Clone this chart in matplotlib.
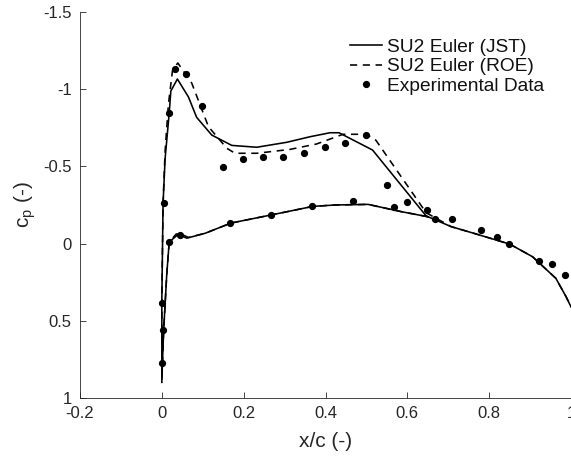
import matplotlib
matplotlib.use("Agg")
import matplotlib.pyplot as plt

plt.rcParams['font.family'] = ['Liberation Sans', 'DejaVu Sans']

# JST: lower surface (TE -> LE) followed by upper surface (LE -> TE)
jst_lower_x = [0.65, 0.585, 0.504, 0.423, 0.369, 0.27, 0.169, 0.106, 0.061, 0.04, 0.018, 0.012, 0.0045, 0.0]
jst_lower_cp = [-0.174, -0.207, -0.254, -0.25, -0.241, -0.187, -0.133, -0.067, -0.035, -0.06, -0.01, 0.2, 0.56, 0.88]
jst_upper_x = [0.0, 0.0, 0.003, 0.008, 0.018, 0.022, 0.038, 0.065, 0.085, 0.122, 0.171, 0.232, 0.305, 0.362, 0.411, 0.433,
               0.515, 0.646, 0.707, 0.776, 0.85, 0.906, 0.963, 0.988, 1.0]
jst_upper_cp = [0.88, 0.365, -0.26, -0.55, -0.845, -0.988, -1.066, -0.95, -0.818, -0.703, -0.636, -0.624, -0.656, -0.692,
                -0.718, -0.718, -0.606, -0.179, -0.11, -0.056, 0.003, 0.085, 0.225, 0.344, 0.41]

roe_lower_x = [0.65, 0.585, 0.504, 0.423, 0.369, 0.27, 0.169, 0.106, 0.065, 0.048, 0.035, 0.018, 0.012, 0.0045, 0.0]
roe_lower_cp = [-0.174, -0.207, -0.254, -0.25, -0.241, -0.187, -0.133, -0.067, -0.04, -0.06, -0.062, -0.01, 0.2, 0.56, 0.9]
roe_upper_x = [0.0, 0.0, 0.003, 0.008, 0.016, 0.026, 0.039, 0.073, 0.114, 0.159, 0.179, 0.232, 0.313, 0.378, 0.443,
               0.5, 0.523, 0.646, 0.707, 0.776, 0.85, 0.906, 0.963, 0.988, 1.0]
roe_upper_cp = [0.9, 0.365, -0.26, -0.6, -0.9, -1.12, -1.17, -1.04, -0.757, -0.617, -0.585, -0.585, -0.61, -0.645, -0.708,
                -0.708, -0.67, -0.2, -0.11, -0.056, 0.003, 0.085, 0.225, 0.344, 0.41]

exp_x = [0.0, 0.003, 0.0, 0.006, 0.018, 0.031, 0.058, 0.097, 0.149, 0.198, 0.248, 0.297, 0.348, 0.399, 0.448, 0.499,
         0.55, 0.599, 0.649, 0.71, 0.781, 0.819, 0.849, 0.922, 0.953, 0.985,
         0.018, 0.045, 0.166, 0.267, 0.366, 0.466, 0.568, 0.668]
exp_cp = [0.385, 0.56, 0.775, -0.26, -0.845, -1.133, -1.098, -0.891, -0.494, -0.546, -0.563, -0.563, -0.587, -0.624,
          -0.652, -0.705, -0.38, -0.27, -0.218, -0.157, -0.088, -0.04, 0.005, 0.11, 0.134, 0.203,
          -0.01, -0.058, -0.133, -0.187, -0.241, -0.274, -0.235, -0.16]

x_ticks = [-0.2, 0, 0.2, 0.4, 0.6, 0.8, 1]
x_ticklabels = ['-0.2', '0', '0.2', '0.4', '0.6', '0.8', '1']
y_ticks = [-1.5, -1, -0.5, 0, 0.5, 1]
y_ticklabels = ['-1.5', '-1', '-0.5', '0', '0.5', '1']

fig = plt.figure(figsize=(5.71, 4.57), dpi=100)
ax = fig.add_axes([80 / 571, 59 / 457, 491 / 571, 386 / 457])

ax.plot(jst_lower_x + jst_upper_x[1:], jst_lower_cp + jst_upper_cp[1:], color='black', lw=1.15,
        label='SU2 Euler (JST)')
ax.plot(roe_lower_x + roe_upper_x[1:], roe_lower_cp + roe_upper_cp[1:], color='black', lw=1.15,
        ls=(0, (4.5, 3.5)), label='SU2 Euler (ROE)')
ax.plot(exp_x, exp_cp, ls='none', marker='o', ms=4.2, color='black', label='Experimental Data')

ax.set_xlim(-0.2, 1)
ax.set_ylim(1, -1.5)
ax.set_xticks(x_ticks)
ax.set_xticklabels(x_ticklabels)
ax.set_yticks(y_ticks)
ax.set_yticklabels(y_ticklabels)

for s in ['top', 'right']:
    ax.spines[s].set_visible(False)
for s in ['left', 'bottom']:
    ax.spines[s].set_color('#262626')
    ax.spines[s].set_linewidth(0.6)
ax.tick_params(direction='in', length=4, width=0.6, colors='#262626', labelsize=12, pad=6,
               labelcolor='#262626')

ax.set_xlabel('x/c (-)', fontsize=15, color='#262626', labelpad=8)
ax.set_ylabel('c$_\\mathregular{p}$ (-)', fontsize=15, color='#262626', labelpad=4)

leg = ax.legend(loc='upper left', bbox_to_anchor=(0.55, 0.932), frameon=False, fontsize=13.8,
                handlelength=1.65, handletextpad=0.28, labelspacing=0.12, borderaxespad=0, borderpad=0)
for t in leg.get_texts():
    t.set_color('#111111')

fig.savefig('out.png', dpi=100)
